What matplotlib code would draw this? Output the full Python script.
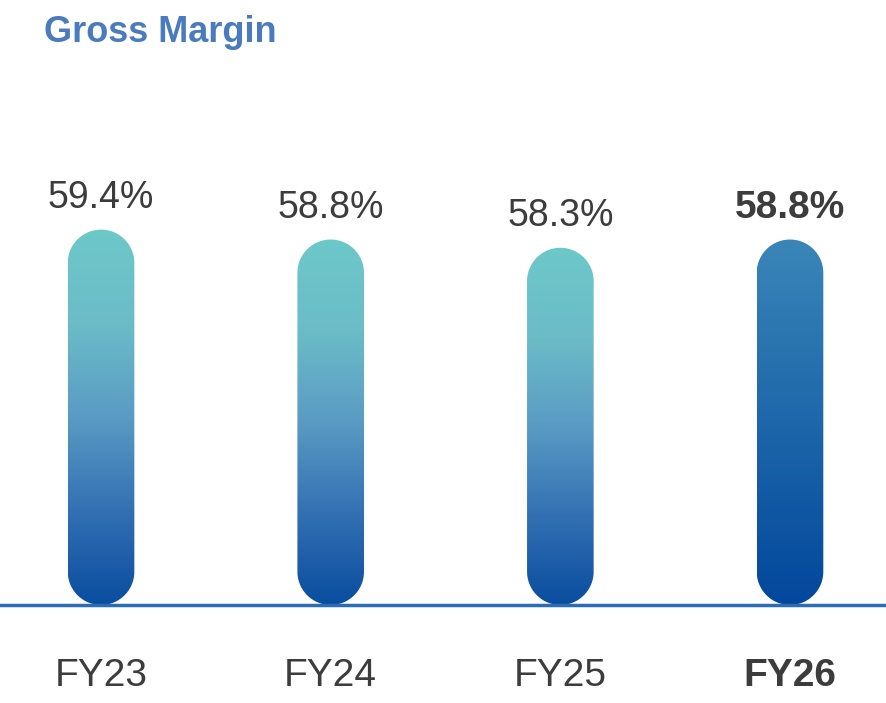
import numpy as np
import matplotlib.pyplot as plt
from matplotlib.colors import LinearSegmentedColormap
from matplotlib.patches import PathPatch
from matplotlib.path import Path
from matplotlib.transforms import IdentityTransform

plt.rcParams['font.family'] = ['Liberation Sans', 'DejaVu Sans']

years = ['FY23', 'FY24', 'FY25', 'FY26']
margin = [59.4, 58.8, 58.3, 58.8]
highlight = [False, False, False, True]

fig = plt.figure(figsize=(8.86, 7.03), dpi=100)
# axes bottom sits on the baseline, top at the figure edge
ax = fig.add_axes([0, 98 / 703, 1, 605 / 703])
base = 36.65
ax.set_ylim(base, base + 605 / 16.5)
ax.set_xlim(-0.44, 3.418)
ax.axis('off')

normal_cmap = LinearSegmentedColormap.from_list(
    'n', [(0, '#0a4d9f'), (0.25, '#3370b3'), (0.5, '#5a9bc4'),
          (0.75, '#6bbcc7'), (1, '#6dc8c9')])
hl_cmap = LinearSegmentedColormap.from_list('h', ['#02479c', '#3a86b8'])
grad = np.linspace(0, 1, 256).reshape(-1, 1)


def pill(x0, y0, x1, y1):
    # capsule outline in pixel coords, true semicircle ends
    r = (x1 - x0) / 2
    cx = (x0 + x1) / 2
    t = np.linspace(0, np.pi, 60)
    top = np.column_stack([cx + r * np.cos(t), y1 - r + r * np.sin(t)])
    bot = np.column_stack([cx - r * np.cos(t), y0 + r - r * np.sin(t)])
    return Path(np.vstack([top, bot, top[:1]]), closed=True)


w = 0.29
fig.canvas.draw()
for i, (yr, v, hl) in enumerate(zip(years, margin, highlight)):
    cmap = hl_cmap if hl else normal_cmap
    im = ax.imshow(grad, cmap=cmap, origin='lower', aspect='auto',
                   extent=[i - w / 2, i + w / 2, base, v], zorder=2)
    (x0, y0), (x1, y1) = ax.transData.transform([(i - w / 2, base), (i + w / 2, v)])
    clip = PathPatch(pill(x0, y0, x1, y1), transform=IdentityTransform())
    im.set_clip_path(clip)
    ax.annotate(f'{v:.1f}%', (i, v), xytext=(0, 22), textcoords='offset pixels',
                ha='center', va='baseline', fontsize=28 if hl else 27,
                color='#3c3c3c', fontweight='bold' if hl else 'normal')
    fig.text((x0 + x1) / 2 / 886, 1 - 686 / 703, yr, ha='center', va='baseline',
             fontsize=28, color='#3c3c3c', fontweight='bold' if hl else 'normal')

ax.axhline(base, color='#2a6db5', lw=2.5, zorder=3, clip_on=False)

fig.text(44 / 886, 1 - 42 / 703, 'Gross Margin', fontsize=26, fontweight='bold',
         color='#4a7bbf', ha='left', va='baseline')

fig.savefig('out.png', dpi=100)
